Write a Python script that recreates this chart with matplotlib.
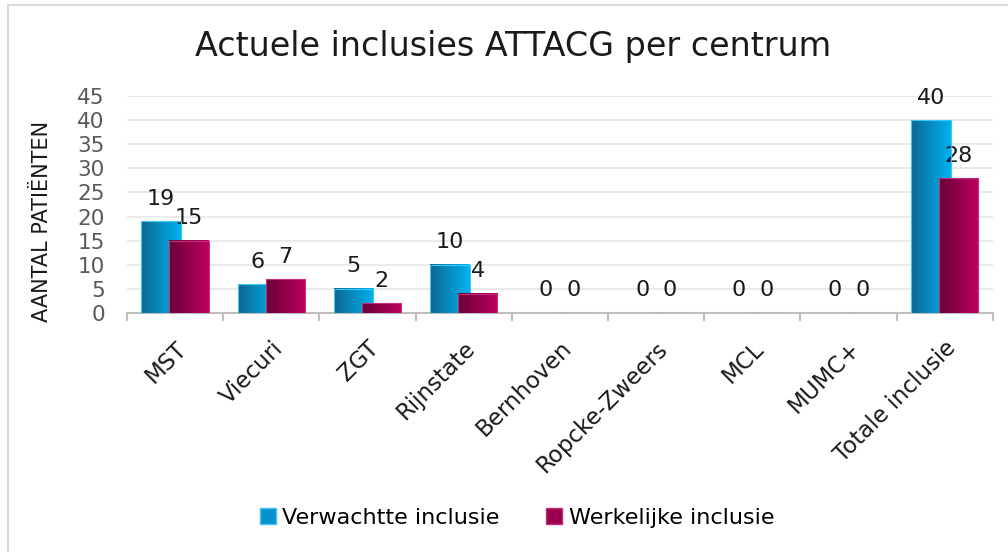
import numpy as np
import matplotlib.pyplot as plt
from matplotlib.colors import LinearSegmentedColormap
from matplotlib.patches import Patch
from matplotlib.lines import Line2D

centra = ["MST", "Viecuri", "ZGT", "Rijnstate", "Bernhoven", "Ropcke-Zweers",
          "MCL", "MUMC+", "Totale inclusie"]
verwacht = [19, 6, 5, 10, 0, 0, 0, 0, 40]
werkelijk = [15, 7, 2, 4, 0, 0, 0, 0, 28]
yticks = [0, 5, 10, 15, 20, 25, 30, 35, 40, 45]

plt.rcParams['font.family'] = ['DejaVu Sans']

fig = plt.figure(figsize=(10.08, 5.52), dpi=100)
ax = fig.add_axes([0.126, 0.433, 0.859, 0.393])

blue_cmap = LinearSegmentedColormap.from_list("b", ["#0b6890", "#00b2f0"])
mag_cmap = LinearSegmentedColormap.from_list("m", ["#6a0036", "#bc0062"])
grad = np.linspace(0, 1, 64).reshape(1, -1)

x = np.arange(len(centra))
w = 0.41
off = 0.145

def gradient_bars(xs, vals, cmap, edge, z):
    bars = ax.bar(xs, vals, w, color="none", edgecolor=edge, linewidth=0.8, zorder=z + 1)
    for b in bars:
        if b.get_height() <= 0:
            continue
        x0, x1 = b.get_x(), b.get_x() + b.get_width()
        ax.imshow(grad, cmap=cmap, extent=[x0, x1, 0, b.get_height()],
                  aspect="auto", zorder=z, interpolation="bicubic")
    return bars

gradient_bars(x - off, verwacht, blue_cmap, "#3cc6f5", 3)
gradient_bars(x + off, werkelijk, mag_cmap, "#c2307c", 5)

# value labels above the bars
for i in range(len(centra)):
    ax.annotate(str(verwacht[i]), (x[i] - off, verwacht[i]), xytext=(0, 9),
                textcoords="offset points", ha="center", va="bottom",
                fontsize=16, color="#1a1a1a")
    ax.annotate(str(werkelijk[i]), (x[i] + off, werkelijk[i]), xytext=(0, 9),
                textcoords="offset points", ha="center", va="bottom",
                fontsize=16, color="#1a1a1a")

ax.set_xlim(-0.5, len(centra) - 0.5)
ax.set_ylim(0, 45)
ax.set_yticks(yticks)
ax.tick_params(axis="y", length=0, labelsize=15.5, labelcolor="#595959", pad=16)
ax.grid(axis="y", color="#e6e6e6", linewidth=1.2)
ax.set_axisbelow(True)
for s in ["top", "right", "left"]:
    ax.spines[s].set_visible(False)
ax.spines["bottom"].set_color("#bfbfbf")
ax.spines["bottom"].set_linewidth(1.5)

ax.set_xticks(np.arange(len(centra) + 1) - 0.5, minor=True)
ax.set_xticks(x)
ax.set_xticklabels(centra, rotation=45, ha="right", va="top", rotation_mode="anchor",
                   fontsize=16.5, color="#1a1a1a")
ax.tick_params(axis="x", which="major", length=0, pad=17)
ax.tick_params(axis="x", which="minor", length=6, width=1.5, color="#bfbfbf")

fig.text(0.042, 0.598, "AANTAL PATIËNTEN", rotation=90, ha="center", va="center",
         fontsize=15, color="#1a1a1a")

fig.text(0.509, 0.916, "Actuele inclusies ATTACG per centrum", ha="center", va="center",
         fontsize=24, color="#1a1a1a")

handles = [Patch(facecolor="#0592cc", edgecolor="#3cc6f5"),
           Patch(facecolor="#9a004f", edgecolor="#c2307c")]
fig.legend(handles, ["Verwachtte inclusie", "Werkelijke inclusie"], loc="center",
           bbox_to_anchor=(0.513, 0.062), ncol=2, frameon=False, fontsize=16,
           handlelength=0.7, handleheight=0.7, handletextpad=0.3, columnspacing=2.1)

# outer frame: only left and top edges fall inside the image
fig.add_artist(Line2D([0.0075, 0.0075], [0, 0.991], transform=fig.transFigure,
                      color="#d9d9d9", linewidth=1.5))
fig.add_artist(Line2D([0.0075, 1], [0.991, 0.991], transform=fig.transFigure,
                      color="#d9d9d9", linewidth=1.5))

fig.savefig("out.png", dpi=100)
